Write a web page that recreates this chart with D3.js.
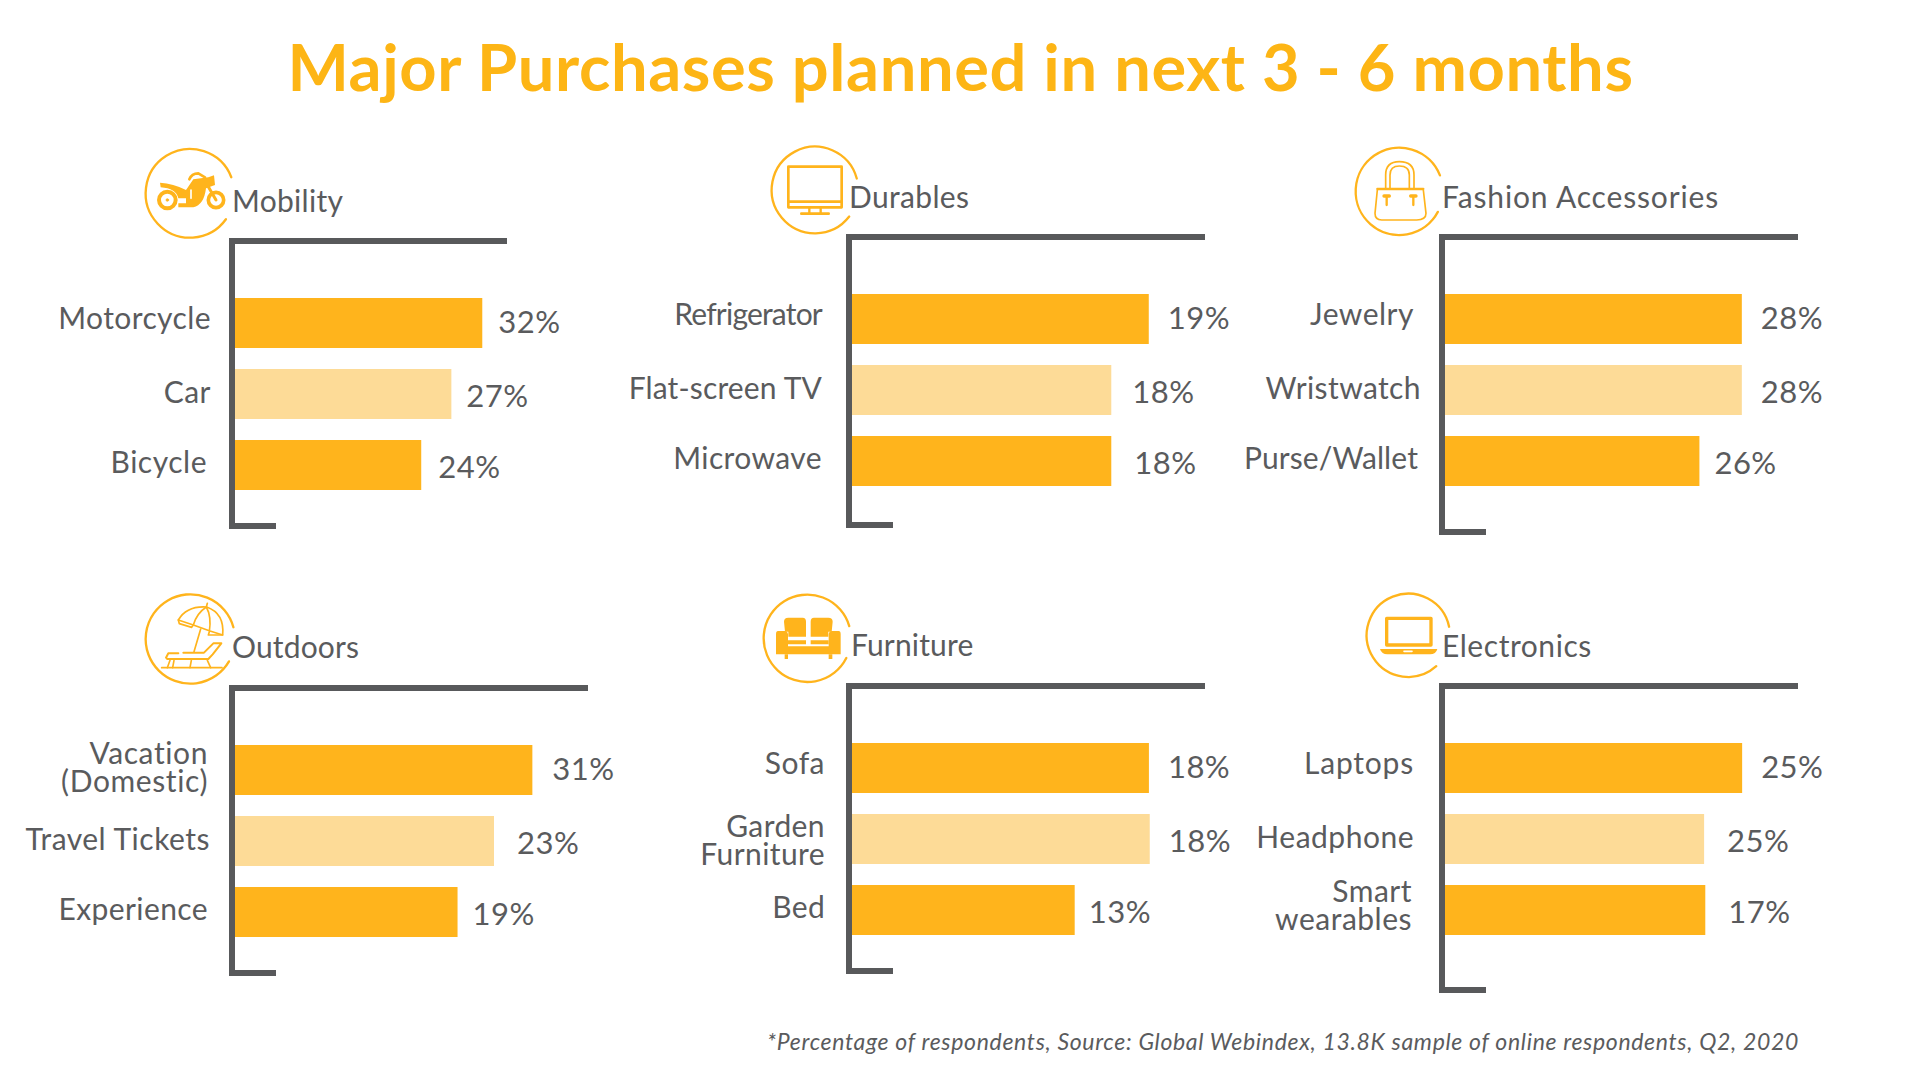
<!DOCTYPE html>
<html><head><meta charset="utf-8">
<script src="https://d3js.org/d3.v7.min.js"></script>
<style>html,body{margin:0;background:#fff}svg{display:block}text{font-family:Lato,sans-serif;fill:#5a5b5d}</style>
</head><body><svg id="c" width="1920" height="1080"></svg>
<script>
// ---- data ----
const titleText = "Major Purchases planned in next 3 - 6 months";
const footnote = "*Percentage of respondents, Source: Global Webindex, 13.8K sample of online respondents, Q2, 2020";
const panelNames = ["Mobility","Durables","Fashion Accessories","Outdoors","Furniture","Electronics"];
const categories = [
  ["Motorcycle","Car","Bicycle"],
  ["Refrigerator","Flat-screen TV","Microwave"],
  ["Jewelry","Wristwatch","Purse/Wallet"],
  ["Vacation\n(Domestic)","Travel Tickets","Experience"],
  ["Sofa","Garden\nFurniture","Bed"],
  ["Laptops","Headphone","Smart\nwearables"]
];
const printedValues = [[32,27,24],[19,18,18],[28,28,26],[31,23,19],[18,18,13],[25,25,17]];
// bar lengths as drawn in the picture (they do not always agree with the printed labels)
const drawnValues = [[32,28,24.1],[19,16.6,16.6],[28,28,24],[31,27,23.2],[18,18.05,13.5],[25,21.8,21.9]];
const axisMax = [35.2,22.6,33.3,36.8,21.4,29.7];

// ---- layout ----
const panelX = [229,846,1439,229,846,1439];
const panelTop = [238,234,234,685,683,683];
const panelRight = [507,1205,1798,588,1205,1798];
const panelBottom = [529,528,535,976,974,993];
const titleXY = [[232,212],[849,208],[1442,208],[232,658],[851,656],[1442,657]];
const titleSpacing = [0.3,0.35,0.85,0.15,0.15,0.55];
const labelRight = [[211,211,207],[822,822,822],[1414,1421,1418],[208,210,208],[825,825,825],[1414,1414,1412]];
const labelDy = [[-4,-1,-2],[-4,-1,-2],[-4,-1,-2],[-2,-1,-2],[-4,2,-2],[-4,-1,-4]];
const labelSpacing = [[0.4,0.5,0.5],[-0.8,0.15,0.4],[0.5,0.4,0.1],[0.6,0.5,0.4],[0.5,0.4,0.3],[0.8,0.5,0.5]];
const valueGap = [[16,15,17],[19,21,23],[19,19,15],[20,23,15],[19,19,14],[19,23,23]];
const valueDy = [-2,1,0.5];
const COL = {main:"#ffb41c",light:"#fddb97",axis:"#58595b",title:"#fdb515"};
const barColors = [COL.main,COL.light,COL.main];

const svg = d3.select("#c");
svg.append("text").attr("x",960.5).attr("y",91).attr("text-anchor","middle")
  .attr("font-size",65).attr("font-weight",700).attr("letter-spacing",0.6).style("fill",COL.title).text(titleText);
svg.append("text").attr("x",1799).attr("y",1050).attr("text-anchor","end")
  .attr("font-size",23).attr("font-style","italic").attr("letter-spacing",0.68).text(footnote);

panelNames.forEach((name,i)=>{
  const x0 = panelX[i]+6, top = panelTop[i];
  const x = d3.scaleLinear().domain([0,axisMax[i]]).range([x0,panelRight[i]]);
  const y = d3.scaleBand().domain(categories[i]).range([top+60,top+60+192]).paddingInner(0.296).paddingOuter(0);
  const g = svg.append("g");

  g.selectAll("rect.bar").data(categories[i]).join("rect").attr("class","bar")
    .attr("x",x0).attr("y",d=>y(d)).attr("height",y.bandwidth())
    .attr("width",(d,j)=>x(drawnValues[i][j])-x0).attr("fill",(d,j)=>barColors[j]);

  // bracket-shaped axis
  g.append("path").attr("fill","none").attr("stroke",COL.axis).attr("stroke-width",6)
    .attr("d",d3.line()([[panelRight[i],top+3],[panelX[i]+3,top+3],[panelX[i]+3,panelBottom[i]-3],[panelX[i]+47,panelBottom[i]-3]]));

  g.append("text").attr("x",titleXY[i][0]).attr("y",titleXY[i][1]).attr("font-size",30).attr("letter-spacing",titleSpacing[i]).text(name);

  categories[i].forEach((c,j)=>{
    const lines = c.split("\n"), cy = y(c)+y.bandwidth()/2+labelDy[i][j];
    const t = g.append("text").attr("text-anchor","end").attr("font-size",30).attr("letter-spacing",labelSpacing[i][j]);
    lines.forEach((l,k)=>t.append("tspan").attr("x",labelRight[i][j])
      .attr("y",cy+10+(k-(lines.length-1)/2)*28).text(l));
    g.append("text").attr("x",x(drawnValues[i][j])+valueGap[i][j])
      .attr("y",y(c)+y.bandwidth()/2+12+valueDy[j])
      .attr("font-size",31).attr("letter-spacing",0.5).text(printedValues[i][j]+"%");
  });
});

// ---- icons (decoration) ----
function icon(ox,oy){return svg.append("g").attr("transform",`translate(${ox},${oy}) scale(${1/3})`)
  .attr("fill","none").attr("stroke",COL.main).attr("stroke-linejoin","round").attr("stroke-linecap","round");}
const sw=(g,d,w)=>g.append("path").attr("d",d).attr("stroke-width",w);
const fl=(g,d)=>g.append("path").attr("d",d).attr("fill",COL.main).attr("stroke","none");
const wh=(g,d,w)=>g.append("path").attr("d",d).attr("stroke","#fff").attr("stroke-width",w);
// open ring: from a gap-start point round the left side to a gap-end point
function ring(g,cx,cy,r,p0,p1){
  const on=p=>{const a=Math.atan2(p[1]-cy,p[0]-cx);return [cx+r*Math.cos(a),cy+r*Math.sin(a)];};
  const a=on(p0),b=on(p1);
  sw(g,`M${a[0]},${a[1]} A${r},${r} 0 1 0 ${b[0]},${b[1]}`,7);
}

let g=icon(130,130);
ring(g,180,190,133,[308,140],[288,268]);
g.append("circle").attr("cx",112).attr("cy",210).attr("r",25).attr("stroke-width",12);
g.append("circle").attr("cx",112).attr("cy",210).attr("r",4).attr("fill",COL.main).attr("stroke-width",2);
g.append("circle").attr("cx",258).attr("cy",210).attr("r",23).attr("stroke-width",11);
fl(g,"M90,158 Q130,160 168,180 L168,205 L145,205 Q138,175 92,172 Z");
fl(g,"M168,180 L190,148 L235,142 L252,136 L255,165 L228,175 Q222,225 190,232 L145,232 L145,220 L168,220 Z");
sw(g,"M178,148 Q185,130 205,130 L225,142",8);
sw(g,"M235,170 L258,210",9);
wh(g,"M183,180 V205",5);

g=icon(750,130);
ring(g,195,180,130,[322,145],[298,260]);
sw(g,"M115,110 H275 V232 H115 Z",8);
sw(g,"M115,215 H275",8);
sw(g,"M178,234 V250 M212,234 V250",7);
sw(g,"M154,251 H236",8);

g=icon(1340,130);
ring(g,178,184,131,[310,132],[298,248]);
sw(g,"M137,175 V135 Q137,95 178,95 Q222,95 222,135 V175",5);
sw(g,"M150,175 V135 Q150,108 178,108 Q208,108 208,135 V175",5);
sw(g,"M112,177 H250",7);
sw(g,"M112,180 L105,250 Q105,270 125,270 H230 Q258,270 258,250 L250,180",5);
sw(g,"M132,198 H148 M212,198 H228",10);
sw(g,"M140,200 V225 M220,200 V225",7);

g=icon(130,585);
ring(g,181,162,134,[316,125],[302,232]);
sw(g,"M232,55 L229,66",5);
sw(g,"M145,105 Q170,62 230,66 Q284,85 278,150 L240,138 L190,120 Z",5);
sw(g,"M145,105 L148,116 L185,127 L190,120 M190,120 Q200,85 229,66 Q245,95 238,140 L235,150 L278,150",5);
sw(g,"M212,132 L192,200",5);
sw(g,"M160,203 H222 L250,175 H274 L248,208 L235,222 H112 L108,218 L115,205 H145",6);
sw(g,"M120,226 L112,248 M132,226 L128,248 M184,226 L180,248 M232,226 L242,248",5);
sw(g,"M95,248 H276",5);

g=icon(750,585);
ring(g,172,160,131,[302,122],[295,222]);
fl(g,"M115,98 H158 Q168,98 168,110 V155 H115 V140 H105 L102,110 Q102,98 115,98 Z");
fl(g,"M192,98 H235 Q248,98 248,110 L245,140 H235 V155 H182 V110 Q182,98 192,98 Z");
fl(g,"M84,138 H105 Q112,138 114,148 V184 H236 V148 Q238,138 245,138 H266 Q272,138 272,148 V208 H78 V148 Q78,138 84,138 Z");
fl(g,"M104,208 H114 V222 H104 Z M236,208 H247 V222 H236 Z");
fl(g,"M114,166 H168 V178 H114 Z M182,166 H236 V178 H182 Z");

g=icon(1350,585);
ring(g,175,151,125,[298,125],[260,245]);
sw(g,"M110,100 H243 V180 H110 Z",10);
fl(g,"M90,192 H262 Q258,208 240,208 H112 Q95,208 90,192 Z");
wh(g,"M162,199 H186",5);
</script></body></html>
